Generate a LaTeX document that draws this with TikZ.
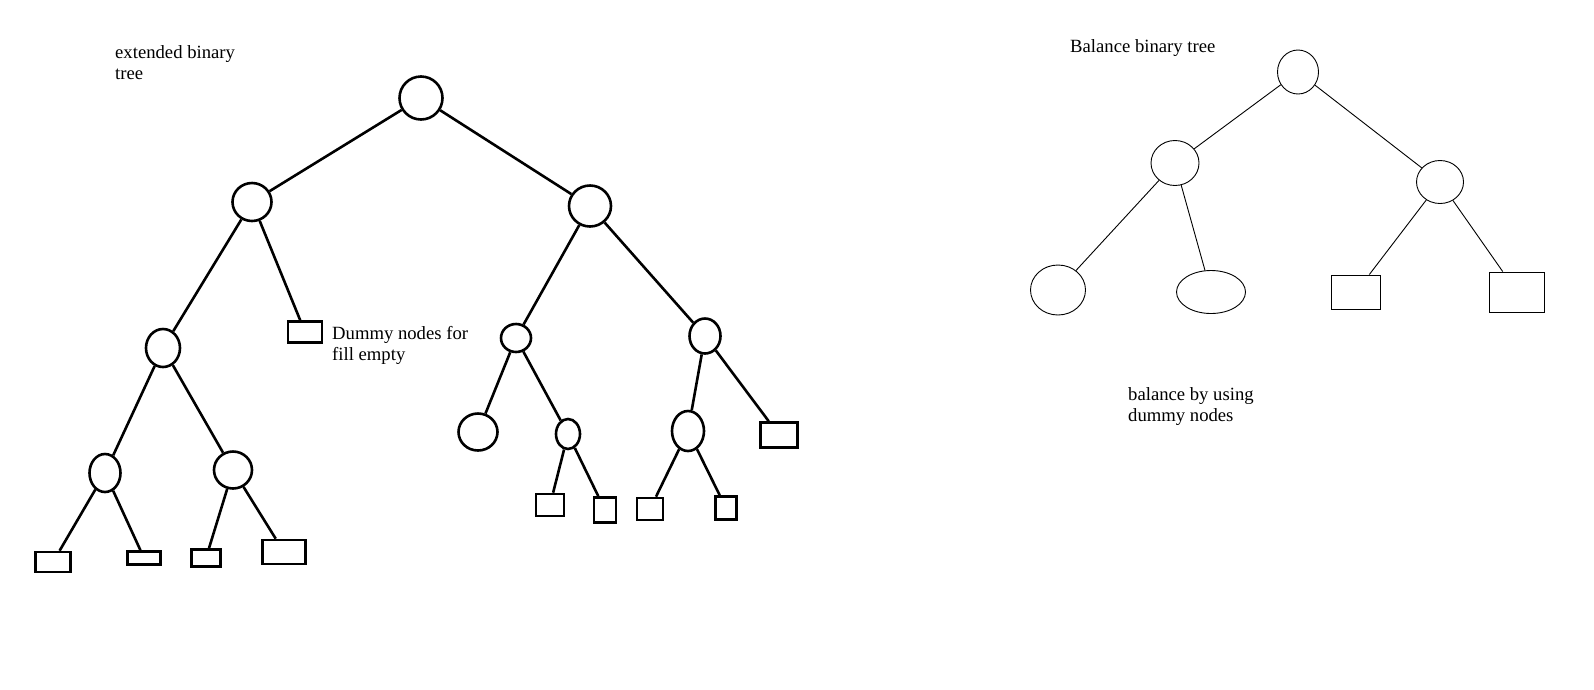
\documentclass[tikz,border=0pt]{standalone}
\usepackage{fontspec}
\setmainfont{Liberation Serif}
\usepackage{tikz}
\usetikzlibrary{shapes.geometric}

\tikzset{
  circ/.style={draw,ellipse,inner sep=0pt},
  dummy/.style={draw,rectangle,inner sep=0pt},
  txt/.style={anchor=base west,align=left,inner sep=0pt,font=\fontsize{18.67}{21.5}\selectfont},
}

\begin{document}
\begin{tikzpicture}[x=1pt,y=-1pt]
  \useasboundingbox (0,0) rectangle (1594,689);
  \begin{scope}[line width=2.6pt]
    \node[circ,minimum width=43,minimum height=43] (root) at (421,98) {};
    \node[circ,minimum width=39,minimum height=38] (l) at (252,202) {};
    \node[circ,minimum width=42,minimum height=41] (r) at (590,206) {};
    \node[dummy,minimum width=34,minimum height=21] (d1) at (305,332) {};
    \node[circ,minimum width=34,minimum height=38] (ll) at (163,348) {};
    \node[circ,minimum width=30,minimum height=28] (rl) at (516,338) {};
    \node[circ,minimum width=31,minimum height=35] (rr) at (705,336) {};
    \node[circ,minimum width=31,minimum height=38] (lll) at (105,473) {};
    \node[circ,minimum width=38,minimum height=37] (llr) at (233,470) {};
    \node[dummy,minimum width=35,minimum height=20] (s1) at (53,562) {};
    \node[dummy,minimum width=33,minimum height=13] (s2) at (144,558) {};
    \node[dummy,minimum width=29,minimum height=17] (s3) at (206,558) {};
    \node[dummy,minimum width=43,minimum height=24] (s4) at (284,552) {};
    \node[circ,minimum width=39,minimum height=37] (rll) at (478,432) {};
    \node[circ,minimum width=24,minimum height=30] (rlr) at (568,434) {};
    \node[dummy,minimum width=28,minimum height=22] (rlrl) at (550,505) {};
    \node[dummy,minimum width=22,minimum height=25] (rlrr) at (605,510) {};
    \node[circ,minimum width=32,minimum height=40] (rrl) at (688,431) {};
    \node[dummy,minimum width=37,minimum height=25] (rrr) at (779,435) {};
    \node[dummy,minimum width=26,minimum height=22] (rrll) at (650,509) {};
    \node[dummy,minimum width=21,minimum height=23] (rrlr) at (726,508) {};
    \draw (root) -- (l);
    \draw (root) -- (r);
    \draw (l) -- (ll);
    \draw (l) -- (d1);
    \draw (r) -- (rl);
    \draw (r) -- (rr);
    \draw (ll) -- (lll);
    \draw (ll) -- (llr);
    \draw (lll) -- (s1);
    \draw (lll) -- (s2);
    \draw (llr) -- (s3);
    \draw (llr) -- (s4);
    \draw (rl) -- (rll);
    \draw (rl) -- (rlr);
    \draw (rlr) -- (rlrl);
    \draw (rlr) -- (rlrr);
    \draw (rr) -- (rrl);
    \draw (rr) -- (rrr);
    \draw (rrl) -- (rrll);
    \draw (rrl) -- (rrlr);
  \end{scope}
  \node[txt] (ext) at (115,79.5) {extended binary\\tree};
  \node[txt] (fill) at (332,360.5) {Dummy nodes for\\fill empty};

  \begin{scope}[line width=0.9pt]
    \node[circ,minimum width=41,minimum height=44] (broot) at (1298,72) {};
    \node[circ,minimum width=48,minimum height=45] (bl) at (1175,163) {};
    \node[circ,minimum width=47,minimum height=43] (br) at (1440,182) {};
    \node[circ,minimum width=55,minimum height=50] (bll) at (1058,290) {};
    \node[circ,minimum width=69,minimum height=43] (blr) at (1211,292) {};
    \node[dummy,minimum width=49,minimum height=34] (brl) at (1356,292) {};
    \node[dummy,minimum width=55,minimum height=40] (brr) at (1517,292) {};
    \draw (broot) -- (bl);
    \draw (broot) -- (br);
    \draw (bl) -- (bll);
    \draw (bl) -- (blr);
    \draw (br) -- (brl);
    \draw (br) -- (brr);
  \end{scope}
  \node[txt] (bal) at (1070,52) {Balance binary tree};
  \node[txt] (use) at (1128,421.5) {balance by using\\dummy nodes};
\end{tikzpicture}
\end{document}
